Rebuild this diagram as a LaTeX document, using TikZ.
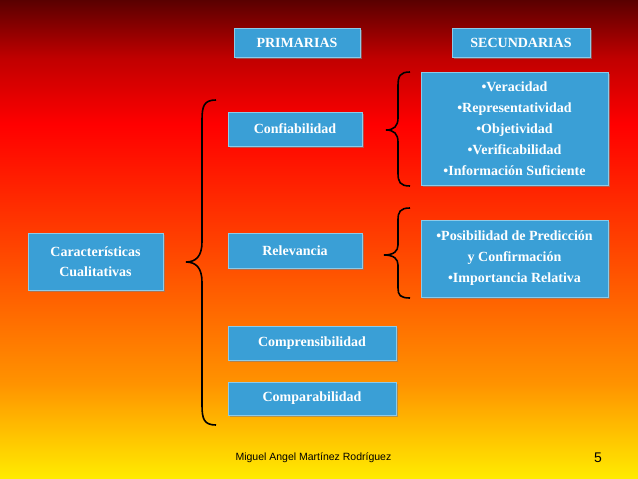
\documentclass[tikz,border=0pt]{standalone}
\usepackage{fontspec}
\setmainfont{Liberation Serif}
\setsansfont{Liberation Sans}
\usetikzlibrary{shadows}
\definecolor{boxblue}{HTML}{3A9FD6}
\definecolor{boxedge}{HTML}{8CCBEA}
\pgfdeclareverticalshading{bg}{100bp}{
 color(0bp)=(yellow!85!orange); color(25bp)=(yellow!85!orange); color(35bp)=(orange!85!yellow); color(50bp)=(orange!50!red);
 color(62bp)=(red); color(69bp)=(red!75!black); color(75bp)=(red!35!black); color(100bp)=(red!35!black)}
\tikzset{
 bx/.style={draw=boxedge,fill=boxblue,text=white,font=\bfseries\fontsize{14}{17}\selectfont,
   align=center,inner sep=1pt,drop shadow={opacity=0.6,shadow xshift=2pt,shadow yshift=-2pt}},
 br/.style={line width=1.6pt,black}
}
\begin{document}
\begin{tikzpicture}[x=1pt,y=-1pt]
\shade[shading=bg] (0,0) rectangle (638,479);
\useasboundingbox (0,0) rectangle (638,479);
\node[bx,minimum width=126,minimum height=29] (pri) at (297,42.5) {PRIMARIAS};
\node[bx,minimum width=138,minimum height=29] (sec) at (521,42.5) {SECUNDARIAS};
\node[bx,minimum width=187,minimum height=113,font=\bfseries\fontsize{14}{21}\selectfont] (ver) at (514.5,128.5) {•Veracidad\\•Representatividad\\•Objetividad\\•Verificabilidad\\•Información Suficiente};
\node[bx,minimum width=134,minimum height=34] (con) at (295,129) {Confiabilidad};
\node[bx,minimum width=187,minimum height=77,font=\bfseries\fontsize{14}{21}\selectfont] (pos) at (514.5,258.5) {•Posibilidad de Predicción\\y Confirmación\\•Importancia Relativa};
\node[bx,minimum width=135,minimum height=57,font=\bfseries\fontsize{14}{20}\selectfont] (car) at (95.5,261.5) {Características\\Cualitativas};
\node[bx,minimum width=134,minimum height=35] (rel) at (295,250.5) {Relevancia};
\node[bx,minimum width=168,minimum height=34] (comp) at (312,343) {Comprensibilidad};
\node[bx,minimum width=168,minimum height=33] (cmpa) at (312,398.5) {Comparabilidad};
\draw[br] (216,100) .. controls (204,100) and (202,106) .. (202,120) -- (202,242)
  .. controls (202,256) and (196,262) .. (186,262) .. controls (196,262) and (202,268) .. (202,282)
  -- (202,405) .. controls (202,419) and (204,425) .. (216,425);
\draw[br] (410,72) .. controls (400,72) and (398,76) .. (398,86) -- (398,118)
  .. controls (398,126) and (394,130) .. (386,130) .. controls (394,130) and (398,134) .. (398,142)
  -- (398,173) .. controls (398,182) and (400,186) .. (410,186);
\draw[br] (410,208) .. controls (400,208) and (398,212) .. (398,220) -- (398,245)
  .. controls (398,251) and (394,255) .. (384,255) .. controls (394,255) and (398,259) .. (398,265)
  -- (398,288) .. controls (398,295) and (400,298) .. (410,298);
\node[font=\sffamily\fontsize{10.5}{12}\selectfont,anchor=west] (auth) at (232,458) {Miguel Angel Martínez Rodríguez};
\node[font=\sffamily\fontsize{14}{16}\selectfont] (pg) at (598,458) {5};
\end{tikzpicture}
\end{document}
